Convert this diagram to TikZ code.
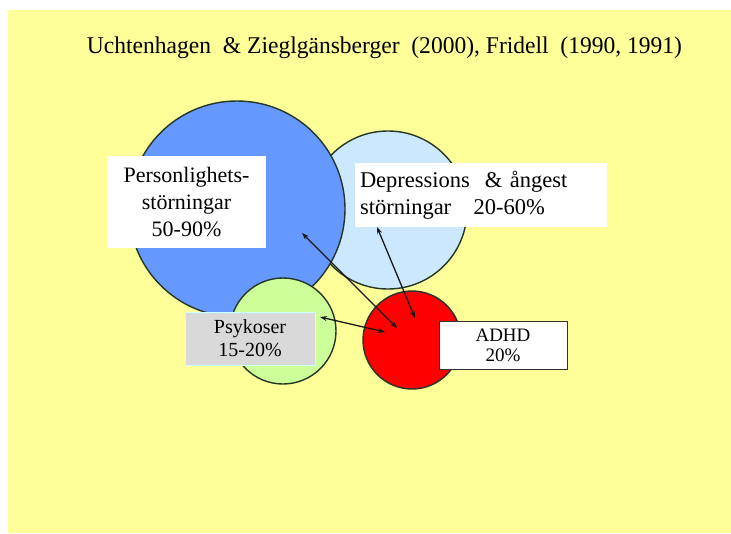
\documentclass[tikz,border=0pt]{standalone}
\usepackage{fontspec}
\setmainfont{Liberation Serif}
\usetikzlibrary{arrows.meta}
\definecolor{bgyellow}{HTML}{FFFF99}
\definecolor{pblue}{HTML}{6699FF}
\definecolor{lblue}{HTML}{CCE8FF}
\definecolor{lgreen}{HTML}{CCFF99}
\definecolor{pred}{HTML}{FF0000}
\definecolor{edgec}{HTML}{263626}
\definecolor{pgray}{HTML}{D9D9D9}
\definecolor{pcyan}{HTML}{CCFFFF}
\tikzset{
  circ/.style={circle, draw=edgec, line width=1.4pt, inner sep=0pt},
  lbl/.style={rectangle, fill=white, inner sep=0pt},
  conn/.style={{Stealth[length=7pt,width=5pt]}-{Stealth[length=7pt,width=5pt]}, line width=1.3pt, draw=black!90},
}
\begin{document}
\begin{tikzpicture}[x=1pt,y=-1pt]
\useasboundingbox (0,0) rectangle (731,533);
\fill[bgyellow] (8,10) rectangle (731,533);
\node[anchor=base] (title) at (384.5,53) {\resizebox{595pt}{\height}{\fontsize{24}{28}\selectfont Uchtenhagen~~\&~Zieglgänsberger~~(2000), Fridell~~(1990, 1991)}};
% circles
\node[circ, fill=lblue, minimum size=158pt] (dep) at (388,210) {};
\node[circ, fill=pblue, minimum size=216pt] (pers) at (237,209) {};
\node[circ, fill=lgreen, minimum size=106pt] (psy) at (283,331) {};
\node[circ, fill=pred, minimum size=98pt] (adhd) at (412,340) {};
% labels
\node[lbl, minimum width=159pt, minimum height=92pt, align=center, font=\fontsize{22}{27}\selectfont] (perslbl) at (186.5,202) {Personlighets-\\störningar\\50-90\%};
\node[lbl, minimum width=252pt, minimum height=64pt, text width=242pt, align=left, font=\fontsize{22.5}{27}\selectfont] (deplbl) at (481,195) {\raisebox{-3pt}{\parbox{242pt}{Depressions~~\&~ångest\\störningar~~~20-60\%}}};
\node[rectangle, fill=pgray, draw=pcyan, line width=1pt, inner sep=0pt, minimum width=130pt, minimum height=53pt, align=center, font=\fontsize{20}{23}\selectfont] (psylbl) at (250,338.5) {Psykoser\\15-20\%};
\node[lbl, draw=black!80, line width=1pt, minimum width=128pt, minimum height=48pt, align=center, font=\fontsize{19}{20}\selectfont] (adhdlbl) at (503,345) {ADHD\\20\%};
% arrow end points
\coordinate (pA) at (302,233);
\coordinate (rA) at (397,328);
\coordinate (dB) at (377,227);
\coordinate (rB) at (415,318);
\coordinate (gC) at (320,317);
\coordinate (rC) at (385,332);
\draw[conn] (pA) -- (rA);
\draw[conn] (dB) -- (rB);
\draw[conn] (gC) -- (rC);
\end{tikzpicture}
\end{document}
